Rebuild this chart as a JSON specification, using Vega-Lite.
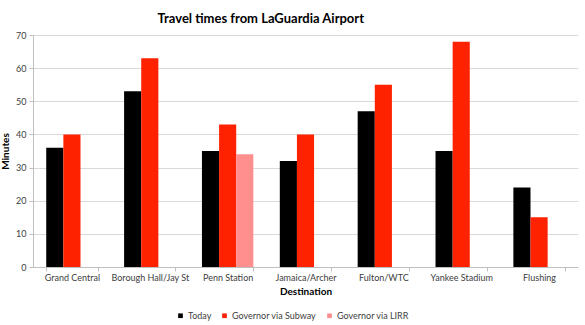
{
  "$schema": "https://vega.github.io/schema/vega-lite/v6.json",
  "width": 545,
  "height": 232,
  "autosize": {"type": "none"},
  "padding": {"left": 33, "top": 35, "right": 7, "bottom": 58},
  "background": "white",
  "title": {
    "text": "Travel times from LaGuardia Airport",
    "anchor": "start",
    "dx": 157,
    "offset": 5,
    "font": "Lato",
    "fontSize": 13,
    "fontWeight": "bold",
    "color": "#000000"
  },
  "data": {
    "values": [
      {"destination": "Grand Central", "series": "Today", "minutes": 36},
      {"destination": "Grand Central", "series": "Governor via Subway", "minutes": 40},
      {"destination": "Borough Hall/Jay St", "series": "Today", "minutes": 53},
      {"destination": "Borough Hall/Jay St", "series": "Governor via Subway", "minutes": 63},
      {"destination": "Penn Station", "series": "Today", "minutes": 35},
      {"destination": "Penn Station", "series": "Governor via Subway", "minutes": 43},
      {"destination": "Penn Station", "series": "Governor via LIRR", "minutes": 34},
      {"destination": "Jamaica/Archer", "series": "Today", "minutes": 32},
      {"destination": "Jamaica/Archer", "series": "Governor via Subway", "minutes": 40},
      {"destination": "Fulton/WTC", "series": "Today", "minutes": 47},
      {"destination": "Fulton/WTC", "series": "Governor via Subway", "minutes": 55},
      {"destination": "Yankee Stadium", "series": "Today", "minutes": 35},
      {"destination": "Yankee Stadium", "series": "Governor via Subway", "minutes": 68},
      {"destination": "Flushing", "series": "Today", "minutes": 24},
      {"destination": "Flushing", "series": "Governor via Subway", "minutes": 15}
    ]
  },
  "mark": {"type": "bar"},
  "encoding": {
    "x": {
      "field": "destination",
      "type": "nominal",
      "sort": ["Grand Central", "Borough Hall/Jay St", "Penn Station", "Jamaica/Archer", "Fulton/WTC", "Yankee Stadium", "Flushing"],
      "scale": {"paddingInner": 0.34, "paddingOuter": 0.17},
      "axis": {
        "title": "Destination",
        "labelAngle": 0,
        "tickBand": "extent",
        "tickSize": 4,
        "tickColor": "#bfbfbf",
        "domainColor": "#bfbfbf",
        "labelPadding": 2,
        "titlePadding": 4
      }
    },
    "xOffset": {
      "field": "series",
      "type": "nominal",
      "sort": ["Today", "Governor via Subway", "Governor via LIRR"]
    },
    "y": {
      "field": "minutes",
      "type": "quantitative",
      "scale": {"domain": [0, 70]},
      "axis": {
        "title": "Minutes",
        "values": [0, 10, 20, 30, 40, 50, 60, 70],
        "gridColor": "#d9d9d9",
        "domainColor": "#bfbfbf",
        "tickColor": "#bfbfbf",
        "tickSize": 4,
        "labelPadding": 3,
        "titlePadding": 5
      }
    },
    "color": {
      "field": "series",
      "type": "nominal",
      "sort": ["Today", "Governor via Subway", "Governor via LIRR"],
      "scale": {
        "domain": ["Today", "Governor via Subway", "Governor via LIRR"],
        "range": ["#000000", "#ff2200", "#ff8f8f"]
      },
      "legend": {
        "title": null,
        "orient": "none",
        "direction": "horizontal",
        "legendX": 143,
        "legendY": 276,
        "symbolType": "square",
        "symbolSize": 22,
        "symbolStrokeWidth": 0,
        "labelOffset": 3,
        "columnPadding": 8
      }
    }
  },
  "config": {
    "font": "Lato",
    "view": {"stroke": null},
    "axis": {
      "labelFont": "Lato",
      "labelFontSize": 9,
      "labelColor": "#404040",
      "titleFont": "Lato",
      "titleFontSize": 10,
      "titleFontWeight": "bold",
      "titleColor": "#000000"
    },
    "legend": {
      "labelFont": "Lato",
      "labelFontSize": 9,
      "labelColor": "#404040"
    }
  }
}
